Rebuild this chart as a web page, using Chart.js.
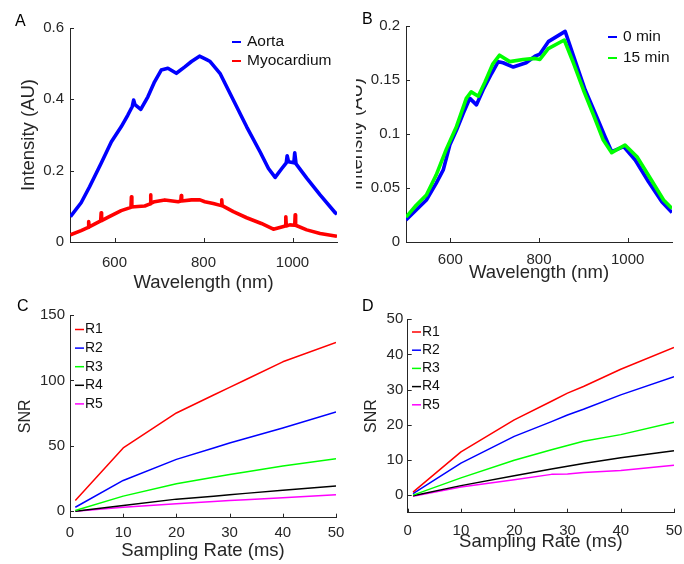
<!DOCTYPE html>
<html>
<head>
<meta charset="utf-8">
<script src="https://cdn.jsdelivr.net/npm/chart.js@4/dist/chart.umd.min.js"></script>
<style>
  html, body { margin: 0; padding: 0; background: #fff; }
  #fig { position: relative; width: 684px; height: 564px; overflow: hidden; background: #fff; }
  #fig canvas { position: absolute; top: 0; }
  .panel-tag { position: absolute; font: 16px "Liberation Sans", Arial, sans-serif; line-height: 1; color: #000; }
</style>
</head>
<body>
<div id="fig">
  <canvas id="chartA" width="684" height="564" style="left:0"></canvas>
  <canvas id="chartC" width="684" height="564" style="left:0"></canvas>
  <canvas id="chartD" width="684" height="564" style="left:0"></canvas>
  <canvas id="chartB" width="328" height="564" style="left:356px"></canvas>
  <div class="panel-tag" style="left:15px;top:13px">A</div>
  <div class="panel-tag" style="left:362px;top:11px">B</div>
  <div class="panel-tag" style="left:17px;top:298px">C</div>
  <div class="panel-tag" style="left:362px;top:298px">D</div>
</div>
<script>
// ---- Panel A: reflectance spectra of two tissues ----
const aortaNm = [501, 525, 544, 570, 593, 615, 630, 640, 643, 646, 659, 675, 690, 705, 720, 739, 758, 773, 791, 806, 815, 837, 867, 897, 927, 946, 961, 976, 986, 988, 991, 1003, 1005, 1008, 1032, 1062, 1096, 1100];
const aortaAU = [0.071, 0.110, 0.155, 0.221, 0.281, 0.323, 0.356, 0.380, 0.398, 0.385, 0.372, 0.407, 0.449, 0.482, 0.487, 0.473, 0.491, 0.506, 0.521, 0.512, 0.506, 0.473, 0.398, 0.323, 0.253, 0.206, 0.181, 0.206, 0.222, 0.242, 0.225, 0.222, 0.250, 0.219, 0.179, 0.132, 0.082, 0.078];
const myoNm = [501, 525, 541, 542, 543, 555, 569, 570, 571, 585, 615, 637, 638, 639, 645, 668, 680, 681, 682, 690, 713, 743, 749, 750, 751, 773, 792, 803, 822, 840, 841, 842, 867, 897, 930, 957, 984, 985, 986, 994, 1005, 1006, 1007, 1032, 1062, 1096, 1100];
const myoAU = [0.020, 0.032, 0.041, 0.057, 0.042, 0.050, 0.059, 0.082, 0.060, 0.069, 0.088, 0.097, 0.127, 0.098, 0.099, 0.101, 0.107, 0.132, 0.108, 0.113, 0.118, 0.113, 0.115, 0.130, 0.115, 0.118, 0.118, 0.113, 0.108, 0.102, 0.118, 0.102, 0.085, 0.068, 0.052, 0.036, 0.045, 0.071, 0.045, 0.048, 0.047, 0.076, 0.047, 0.034, 0.024, 0.017, 0.016];

// ---- Panel B: spectra at 0 and 15 minutes ----
const min0Nm = [500, 523, 546, 568, 584, 599, 614, 629, 644, 659, 674, 693, 708, 719, 742, 771, 791, 802, 821, 859, 881, 904, 927, 949, 964, 991, 1017, 1047, 1077, 1100];
const min0AU = [0.0204, 0.0296, 0.0389, 0.0543, 0.0667, 0.0900, 0.1037, 0.1190, 0.1330, 0.1270, 0.1410, 0.1560, 0.1670, 0.1660, 0.1620, 0.1660, 0.1720, 0.1740, 0.1855, 0.1950, 0.1685, 0.1410, 0.1190, 0.0975, 0.0836, 0.0883, 0.0759, 0.0558, 0.0373, 0.0272];
const min15Nm = [500, 523, 546, 568, 591, 614, 636, 647, 663, 678, 696, 711, 734, 764, 791, 802, 821, 857, 878, 900, 923, 945, 964, 994, 1021, 1051, 1081, 1100];
const min15AU = [0.0230, 0.0340, 0.0435, 0.0620, 0.0860, 0.1070, 0.1330, 0.1390, 0.1350, 0.1480, 0.1650, 0.1730, 0.1670, 0.1690, 0.1700, 0.1690, 0.1790, 0.1870, 0.1655, 0.1410, 0.1176, 0.0944, 0.0827, 0.0898, 0.0790, 0.0590, 0.0389, 0.0310];

// ---- Panels C and D: SNR against sampling rate for five regions ----
const samplingMs = [1, 10, 20, 27, 30, 33, 40, 50];
const regionLabels = ['R1', 'R2', 'R3', 'R4', 'R5'];
const snrC1 = [8.2, 48.3, 75.1, 88.8, 94.7, 100.5, 114.2, 129.0];
const snrC2 = [3.0, 23.5, 39.6, 48.3, 52.1, 55.5, 63.6, 75.9];
const snrC3 = [0.5, 11.5, 21.0, 26.0, 28.1, 30.0, 34.5, 40.1];
const snrC4 = [0.0, 4.4, 9.2, 11.4, 12.6, 13.6, 15.9, 19.2];
const snrC5 = [0.0, 3.0, 5.6, 7.4, 8.2, 8.8, 10.2, 12.6];
const snrD1 = [0.85, 12.3, 21.4, 26.7, 29.0, 30.9, 35.8, 42.0];
const snrD2 = [0.4, 9.1, 16.7, 20.9, 22.8, 24.4, 28.5, 33.7];
const snrD3 = [0.0, 4.9, 9.9, 12.9, 14.1, 15.3, 17.2, 20.7];
const snrD4 = [-0.2, 2.7, 5.5, 7.4, 8.2, 9.0, 10.6, 12.6];
const snrD5 = [-0.3, 2.3, 4.4, 5.9, 6.0, 6.4, 7.0, 8.5];

// ---- Tick values ----
const wavelengthTicks = [600, 800, 1000];
const intensityTicksA = [0, 0.2, 0.4, 0.6];
const intensityTicksB = [0, 0.05, 0.1, 0.15, 0.2];
const samplingTicks = [0, 10, 20, 30, 40, 50];
const snrTicksC = [0, 50, 100, 150];
const snrTicksD = [0, 10, 20, 30, 40, 50];

const FONT = '"Liberation Sans", Arial, Helvetica, sans-serif';
const INK = '#262626';
const regionColors = ['#ff0000', '#0000ff', '#00ff00', '#000000', '#ff00ff'];

const pairs = (xs, ys) => xs.map((x, i) => ({ x: x, y: ys[i] }));

// MATLAB-style tick marks pointing into the plot area
const inwardTicks = {
  id: 'inwardTicks',
  afterDatasetsDraw(chart) {
    const { ctx, chartArea: a } = chart;
    const xs = chart.scales.x, ys = chart.scales.y;
    const len = 4;
    ctx.save();
    ctx.strokeStyle = INK;
    ctx.lineWidth = 1;
    ctx.beginPath();
    xs.ticks.forEach(t => {
      const p = Math.round(xs.getPixelForValue(t.value)) + 0.5;
      ctx.moveTo(p, a.bottom); ctx.lineTo(p, a.bottom - len);
    });
    ys.ticks.forEach(t => {
      const p = Math.round(ys.getPixelForValue(t.value)) + 0.5;
      ctx.moveTo(a.left, p); ctx.lineTo(a.left + len, p);
    });
    ctx.stroke();
    ctx.restore();
  }
};

// Compact legend drawn inside the axes
const inlineLegend = {
  id: 'inlineLegend',
  afterDraw(chart, args, o) {
    const ctx = chart.ctx;
    ctx.save();
    ctx.font = o.fontSize + 'px ' + FONT;
    ctx.textBaseline = 'middle';
    ctx.textAlign = 'left';
    chart.data.datasets.forEach((ds, i) => {
      const y = o.y + i * o.gap;
      ctx.strokeStyle = ds.borderColor;
      ctx.lineWidth = o.lineWidth;
      ctx.beginPath();
      ctx.moveTo(o.x, y); ctx.lineTo(o.x + o.len, y);
      ctx.stroke();
      ctx.fillStyle = '#111';
      ctx.fillText(ds.label, o.textX, y);
    });
    ctx.restore();
  }
};

function axis(p) {
  return {
    type: 'linear',
    min: p.min, max: p.max,
    afterBuildTicks: s => { s.ticks = p.ticks.map(v => ({ value: v })); },
    afterFit: s => {
      if (p.horizontal) { s.height = p.size; s.paddingLeft = 0; s.paddingRight = 0; }
      else { s.width = p.size; s.paddingTop = 0; s.paddingBottom = 0; }
    },
    grid: { display: false, drawTicks: false },
    border: { display: true, color: INK, width: 1 },
    ticks: {
      color: INK, padding: p.tickPad, autoSkip: false, maxRotation: 0,
      font: { family: FONT, size: 15 },
      callback: v => String(v)
    },
    title: {
      display: true, text: p.title, color: INK,
      font: { family: FONT, size: p.titleSize || 18.5 },
      padding: p.titlePad
    }
  };
}

function panel(id, datasets, layoutPad, xAxis, yAxis, legend) {
  return new Chart(document.getElementById(id), {
    type: 'line',
    data: { datasets: datasets },
    options: {
      responsive: false, animation: false, devicePixelRatio: 1, events: [],
      layout: { padding: layoutPad },
      elements: { point: { radius: 0 }, line: { tension: 0, borderJoinStyle: 'round', borderCapStyle: 'butt' } },
      scales: { x: axis(Object.assign({ horizontal: true }, xAxis)), y: axis(yAxis) },
      plugins: { legend: { display: false }, tooltip: { enabled: false }, inlineLegend: legend }
    },
    plugins: [inwardTicks, inlineLegend]
  });
}

const spectrumLine = (label, color, data, order) => ({ label, data, borderColor: color, borderWidth: 3.6, order, fill: false });
const snrLine = (label, color, data) => ({ label, data, borderColor: color, borderWidth: 1.5, fill: false });

// A
panel('chartA', [
  spectrumLine('Aorta', '#0000ff', pairs(aortaNm, aortaAU), 0),
  spectrumLine('Myocardium', '#ff0000', pairs(myoNm, myoAU), 1)
], { left: 12, top: 28, right: 347, bottom: 269 },
  { min: 500, max: 1100, ticks: wavelengthTicks, size: 53, tickPad: 12, title: 'Wavelength (nm)', titlePad: { top: 0, bottom: 0.9 } },
  { min: 0, max: 0.6, ticks: intensityTicksA, size: 58, tickPad: 6, title: 'Intensity (AU)', titlePad: { top: 5.9, bottom: 0 } },
  { x: 232, len: 9, textX: 247, y: 42, gap: 19, fontSize: 15.5, lineWidth: 2 });

// B
panel('chartB', [
  spectrumLine('0 min', '#0000ff', pairs(min0Nm, min0AU), 1),
  spectrumLine('15 min', '#00ff00', pairs(min15Nm, min15AU), 0)
], { left: 0, top: 26, right: 12, bottom: 279 },
  { min: 500, max: 1100, ticks: wavelengthTicks, size: 43, tickPad: 8.5, title: 'Wavelength (nm)', titlePad: { top: 0, bottom: 0.9 } },
  { min: 0, max: 0.2, ticks: intensityTicksB, size: 50, tickPad: 6, title: 'Intensity (AU)', titlePad: { top: -10.6, bottom: 0 } },
  { x: 252, len: 9, textX: 267, y: 37, gap: 21, fontSize: 15.5, lineWidth: 2 });

// C
panel('chartC', [
  snrLine(regionLabels[0], regionColors[0], pairs(samplingMs, snrC1)),
  snrLine(regionLabels[1], regionColors[1], pairs(samplingMs, snrC2)),
  snrLine(regionLabels[2], regionColors[2], pairs(samplingMs, snrC3)),
  snrLine(regionLabels[3], regionColors[3], pairs(samplingMs, snrC4)),
  snrLine(regionLabels[4], regionColors[4], pairs(samplingMs, snrC5))
], { left: 12, top: 315, right: 348, bottom: 1 },
  { min: 0, max: 50, ticks: samplingTicks, size: 45.3, tickPad: 6, title: 'Sampling Rate (ms)', titlePad: { top: 0, bottom: 0.9 } },
  { min: -5, max: 150, ticks: snrTicksC, size: 58, tickPad: 5, title: 'SNR', titleSize: 16, titlePad: { top: 4.4, bottom: 0 } },
  { x: 75, len: 9, textX: 85, y: 329.5, gap: 18.6, fontSize: 14, lineWidth: 1.5 });

// D
panel('chartD', [
  snrLine(regionLabels[0], regionColors[0], pairs(samplingMs, snrD1)),
  snrLine(regionLabels[1], regionColors[1], pairs(samplingMs, snrD2)),
  snrLine(regionLabels[2], regionColors[2], pairs(samplingMs, snrD3)),
  snrLine(regionLabels[3], regionColors[3], pairs(samplingMs, snrD4)),
  snrLine(regionLabels[4], regionColors[4], pairs(samplingMs, snrD5))
], { left: 360, top: 319.3, right: 10, bottom: 10 },
  { min: 0, max: 50, ticks: samplingTicks, size: 41.3, tickPad: 9.5, title: 'Sampling Rate (ms)', titlePad: { top: 0, bottom: 0.9 } },
  { min: -5, max: 50, ticks: snrTicksD, size: 47.7, tickPad: 4.4, title: 'SNR', titleSize: 16, titlePad: { top: 2.4, bottom: 0 } },
  { x: 412, len: 9, textX: 422, y: 332, gap: 18.2, fontSize: 14, lineWidth: 1.5 });
</script>
</body>
</html>
